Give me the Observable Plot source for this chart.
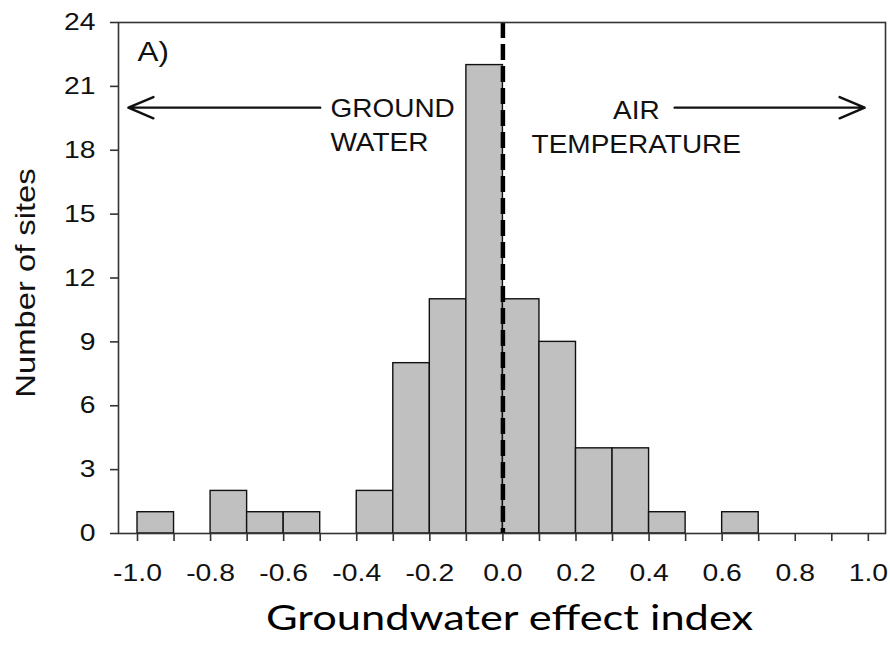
<!DOCTYPE html>
<html>
<head>
<meta charset="utf-8">
<script src="https://cdn.jsdelivr.net/npm/d3@7"></script>
<script src="https://cdn.jsdelivr.net/npm/@observablehq/plot@0.6"></script>
<style>
  html, body { margin: 0; padding: 0; background: #fff; }
  #chart { width: 890px; height: 649px; overflow: hidden; }
</style>
</head>
<body>
<div id="chart"></div>
<script>
// ---- data ----
const binStart = [-1.0, -0.9, -0.8, -0.7, -0.6, -0.5, -0.4, -0.3, -0.2, -0.1, 0.0, 0.1, 0.2, 0.3, 0.4, 0.5, 0.6, 0.7, 0.8, 0.9];
const binEnd   = [-0.9, -0.8, -0.7, -0.6, -0.5, -0.4, -0.3, -0.2, -0.1, 0.0, 0.1, 0.2, 0.3, 0.4, 0.5, 0.6, 0.7, 0.8, 0.9, 1.0];
const counts   = [1, 0, 2, 1, 1, 0, 2, 8, 11, 22, 11, 9, 4, 4, 1, 0, 1, 0, 0, 0];

const xTicks = [-1.0, -0.9, -0.8, -0.7, -0.6, -0.5, -0.4, -0.3, -0.2, -0.1, 0.0, 0.1, 0.2, 0.3, 0.4, 0.5, 0.6, 0.7, 0.8, 0.9, 1.0];
const xTickLabels = ["-1.0", "", "-0.8", "", "-0.6", "", "-0.4", "", "-0.2", "", "0.0", "", "0.2", "", "0.4", "", "0.6", "", "0.8", "", "1.0"];
const yTicks = [0, 3, 6, 9, 12, 15, 18, 21, 24];
const yTickLabels = ["0", "3", "6", "9", "12", "15", "18", "21", "24"];

const xTitle = "Groundwater effect index";
const yTitle = "Number of sites";
const panelLabel = "A)";
const leftNote = "GROUND\nWATER";
const rightNote = "AIR\nTEMPERATURE";
const arrowStart = [-0.5, 0.47];
const arrowEnd = [-1.025, 0.99];
const arrowLevel = [20, 20];

// ---- tables built from the arrays ----
const bins = binStart.map((s, i) => ({x1: s, x2: binEnd[i], count: counts[i]}));
const arrows = arrowStart.map((s, i) => ({x1: s, x2: arrowEnd[i], y: arrowLevel[i]}));

const sans = "'Liberation Sans', Arial, Helvetica, sans-serif";

const chart = Plot.plot({
  width: 890,
  height: 649,
  marginLeft: 118,
  marginRight: 5,
  marginTop: 22,
  marginBottom: 116,
  style: {fontFamily: sans, fontSize: "24px", color: "#111", background: "#fff", overflow: "visible"},
  x: {domain: [-1.052, 1.047]},
  y: {domain: [0, 24]},
  marks: [
    Plot.rectY(bins, {x1: "x1", x2: "x2", y: "count", fill: "#c0c0c0", stroke: "#111", strokeWidth: 1.4}),
    Plot.ruleX([0], {stroke: "#000", strokeWidth: 4.5, strokeDasharray: "16,6"}),
    Plot.frame({stroke: "#333", strokeWidth: 1.6}),
    Plot.axisX({
      ticks: xTicks,
      tickFormat: (d) => xTickLabels[xTicks.indexOf(d)],
      tickSize: 8, tickPadding: 22, label: null,
      fontSize: 24, stroke: "#333", strokeWidth: 1.6, fill: "#111"
    }),
    Plot.axisY({
      ticks: yTicks,
      tickFormat: (d) => yTickLabels[yTicks.indexOf(d)],
      tickSize: 8, tickPadding: 15, label: null,
      fontSize: 24, stroke: "#333", strokeWidth: 1.6, fill: "#111"
    }),
    Plot.arrow(arrows, {x1: "x1", y1: "y", x2: "x2", y2: "y", stroke: "#111", strokeWidth: 2.4, headLength: 17, headAngle: 46}),
    Plot.text([panelLabel], {x: -1.0, y: 23, textAnchor: "start", lineAnchor: "top", dy: -3, fontSize: 28, fill: "#111"}),
    Plot.text([leftNote], {x: -0.472, y: 20, textAnchor: "start", lineAnchor: "top", lineHeight: 1.36, dy: -15, fontSize: 25, fill: "#111"}),
    Plot.text([rightNote], {x: 0.365, y: 20, textAnchor: "middle", lineAnchor: "top", lineHeight: 1.36, dy: -13, fontSize: 25, fill: "#111"}),
    Plot.text([yTitle], {frameAnchor: "left", rotate: -90, textAnchor: "middle", lineAnchor: "bottom", dx: -84, dy: 5, fontSize: 28, fill: "#111"}),
    Plot.text([xTitle], {frameAnchor: "bottom", textAnchor: "middle", lineAnchor: "top", dx: 7.5, dy: 72, fontSize: 35, fontFamily: "Lato, 'Open Sans', sans-serif", fill: "#000"})
  ]
});

document.getElementById("chart").appendChild(chart);

// The reference is horizontally stretched; widen the glyphs about each text's anchor.
const axisStretch = {"x-axis tick label": 1.18, "y-axis tick label": 1.18};
const textStretch = [1.12, 1.12, 1.12, 1.17, 1.24]; // panel label, left note, right note, y title, x title
function widen(el, k) {
  const t = el.getAttribute("transform") || "";
  const x = parseFloat(el.getAttribute("x")) || 0;
  el.setAttribute("transform", `${t} translate(${x},0) scale(${k},1) translate(${-x},0)`.trim());
}
let textIndex = 0;
d3.select(chart).selectAll(":scope > g[aria-label]").each(function () {
  const label = this.getAttribute("aria-label");
  let k = axisStretch[label];
  if (label === "text") k = textStretch[textIndex++];
  if (!k) return;
  this.querySelectorAll(":scope > text").forEach((el) => widen(el, k));
});
</script>
</body>
</html>
